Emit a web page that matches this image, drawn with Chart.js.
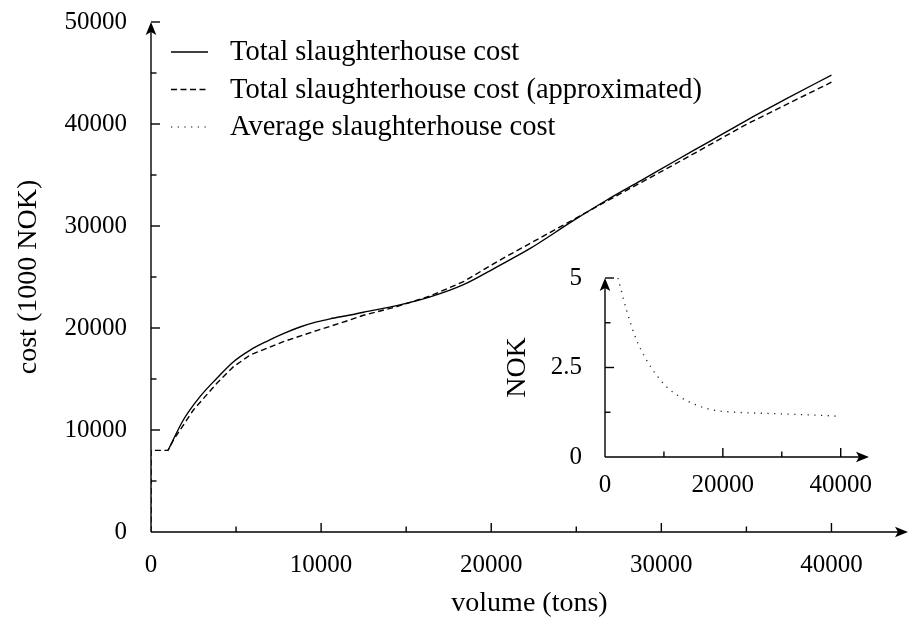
<!DOCTYPE html>
<html>
<head>
<meta charset="utf-8">
<script src="https://cdn.jsdelivr.net/npm/chart.js@4.4.0/dist/chart.umd.min.js"></script>
<style>
  html, body { margin: 0; padding: 0; background: #fff; }
  #wrap { position: relative; width: 913px; height: 628px; }
  #main { position: absolute; left: 0; top: 0; }
  #inset { position: absolute; left: 490px; top: 260px; }
</style>
</head>
<body>
<div id="wrap">
  <canvas id="main" width="913" height="628"></canvas>
  <canvas id="inset" width="423" height="250"></canvas>
</div>
<script>
// Total slaughterhouse cost (1000 NOK) against volume (tons)
const totalX = [1000, 1900, 2880, 3870, 4850, 5830, 6810, 7780, 8760, 9740, 10530, 11710, 12490,
                14450, 16410, 18370, 20340, 22290, 24800, 26800, 28800, 30730, 32900, 35040, 37500, 40000];
const totalY = [8000, 10980, 13270, 15070, 16700, 17840, 18700, 19450, 20100, 20600, 20900, 21270, 21550,
                22200, 23050, 24250, 26000, 27800, 30500, 32550, 34450, 36300, 38350, 40390, 42600, 44800];

// Approximated total cost
const approxX = [0, 0, 1000, 1320, 2490, 3870, 4850, 5830, 7780, 9740, 10600, 11710, 12490, 14450,
                 16410, 18370, 20340, 22290, 24800, 26800, 30730, 35040, 40000];
const approxY = [0, 8000, 8000, 9020, 11960, 14580, 16210, 17350, 18660, 19750, 20200, 20800, 21250, 22090,
                 23140, 24540, 26500, 28300, 30600, 32450, 36000, 40000, 44100];

// Average cost (NOK) for the inset
const avgX = [2200, 3640, 5340, 7040, 8740, 10440, 12700, 15540, 18370, 21200, 26870, 32550, 39630];
const avgY = [5.0, 4.11, 3.27, 2.71, 2.29, 1.96, 1.68, 1.45, 1.31, 1.26, 1.22, 1.19, 1.14];

const legendLabels = ['Total slaughterhouse cost', 'Total slaughterhouse cost (approximated)', 'Average slaughterhouse cost'];
const legendDashes = [[], [6, 3.5], [1.2, 5.5]];

// labelled ticks; a minor tick is drawn halfway between two of them
const mainXTicks = [0, 10000, 20000, 30000, 40000];
const mainYTicks = [0, 10000, 20000, 30000, 40000, 50000];
const insetXTicks = [0, 20000, 40000];
const insetYTicks = [0, 2.5, 5];

const pts = (xs, ys) => xs.map((v, i) => ({ x: v, y: ys[i] }));
const fixTicks = list => s => { s.ticks = list.map(v => ({ value: v })); };
const noPad = s => { s.paddingTop = 0; s.paddingBottom = 0; s.paddingLeft = 0; s.paddingRight = 0; };

Chart.defaults.font.family = "'Liberation Serif', serif";
Chart.defaults.font.size = 25;
Chart.defaults.color = '#000';

function drawLine(ctx, x1, y1, x2, y2) {
  ctx.beginPath(); ctx.moveTo(x1, y1); ctx.lineTo(x2, y2); ctx.stroke();
}

function arrowHead(ctx, tx, ty, dir) {
  const L = 13, W = 5.3, N = 3;
  ctx.beginPath();
  if (dir === 'right') {
    ctx.moveTo(tx, ty);
    ctx.lineTo(tx - L, ty - W);
    ctx.lineTo(tx - L + N, ty);
    ctx.lineTo(tx - L, ty + W);
  } else {
    ctx.moveTo(tx, ty);
    ctx.lineTo(tx - W, ty + L);
    ctx.lineTo(tx, ty + L - N);
    ctx.lineTo(tx + W, ty + L);
  }
  ctx.closePath();
  ctx.fill();
}

// axis lines with arrows, inward major ticks and minor ticks in between
const axisMarks = {
  id: 'axisMarks',
  afterDatasetsDraw(chart, args, opts) {
    const { ctx, chartArea: a, scales: { x, y } } = chart;
    const x0 = x.getPixelForValue(0), y0 = y.getPixelForValue(0);
    ctx.save();
    ctx.strokeStyle = '#000';
    ctx.fillStyle = '#000';
    ctx.lineWidth = 1.4;
    ctx.setLineDash([]);
    const xt = x.ticks.map(t => t.value), yt = y.ticks.map(t => t.value);
    xt.forEach((v, i) => {
      if (v > 0) {
        const px = x.getPixelForValue(v);
        drawLine(ctx, px, y0, px, y0 - opts.major);
      }
      const step = i + 1 < xt.length ? xt[i + 1] - v : v - xt[i - 1];
      if (v + step / 2 < x.max) {
        const pm = x.getPixelForValue(v + step / 2);
        drawLine(ctx, pm, y0, pm, y0 - opts.minor);
      }
    });
    yt.forEach((v, i) => {
      if (v > 0) {
        const py = y.getPixelForValue(v);
        drawLine(ctx, x0, py, x0 + opts.major, py);
      }
      const step = i + 1 < yt.length ? yt[i + 1] - v : v - yt[i - 1];
      if (v + step / 2 < y.max) {
        const pm = y.getPixelForValue(v + step / 2);
        drawLine(ctx, x0, pm, x0 + opts.minor, pm);
      }
    });
    drawLine(ctx, x0, y0, a.right - 8, y0);
    drawLine(ctx, x0, y0, x0, a.top + 8);
    arrowHead(ctx, a.right, y0, 'right');
    arrowHead(ctx, x0, a.top, 'up');
    ctx.restore();
  }
};

const lineLegend = {
  id: 'lineLegend',
  afterDraw(chart, args, opts) {
    const { ctx } = chart;
    ctx.save();
    ctx.font = opts.font;
    ctx.fillStyle = '#000';
    ctx.strokeStyle = '#000';
    ctx.textBaseline = 'middle';
    legendLabels.forEach((label, i) => {
      const yy = opts.top + i * opts.rowGap;
      ctx.lineWidth = i === 2 ? 1.2 : 1.4;
      ctx.setLineDash(legendDashes[i]);
      drawLine(ctx, opts.lineStart, yy, opts.lineEnd, yy);
      ctx.setLineDash([]);
      ctx.fillText(label, opts.textStart, yy + 1);
    });
    ctx.restore();
  }
};

new Chart(document.getElementById('main'), {
  type: 'scatter',
  data: {
    datasets: [
      {
        label: legendLabels[0],
        data: pts(totalX, totalY),
        showLine: true,
        borderColor: '#000',
        borderWidth: 1.4,
        pointRadius: 0,
        cubicInterpolationMode: 'monotone'
      },
      {
        label: legendLabels[1],
        data: pts(approxX, approxY),
        showLine: true,
        borderColor: '#000',
        borderWidth: 1.4,
        borderDash: legendDashes[1],
        pointRadius: 0,
        tension: 0
      }
    ]
  },
  options: {
    responsive: false,
    animation: false,
    layout: { autoPadding: false, padding: { top: 22, right: 5, left: 0, bottom: 0 } },
    plugins: {
      legend: { display: false },
      tooltip: { enabled: false },
      axisMarks: { major: 9, minor: 5.5 },
      lineLegend: { font: "28.5px 'Liberation Serif'", top: 52, rowGap: 37.5, lineStart: 171, lineEnd: 208, textStart: 230 }
    },
    scales: {
      x: {
        type: 'linear',
        min: 0,
        max: 44500,
        grid: { display: false, drawTicks: false },
        border: { display: false },
        afterBuildTicks: fixTicks(mainXTicks),
        ticks: { autoSkip: false, maxRotation: 0, padding: 18, callback: v => String(v) },
        title: { display: true, text: 'volume (tons)', font: { size: 28 }, padding: { top: 0, bottom: 8 } },
        afterFit: s => { s.height = 96; noPad(s); }
      },
      y: {
        type: 'linear',
        min: 0,
        max: 50000,
        grid: { display: false, drawTicks: false },
        border: { display: false },
        afterBuildTicks: fixTicks(mainYTicks),
        ticks: { autoSkip: false, padding: 24, callback: v => String(v) },
        title: { display: true, text: 'cost (1000 NOK)', font: { size: 28 }, padding: { top: 12, bottom: 0 } },
        afterFit: s => { s.width = 151; noPad(s); }
      }
    }
  },
  plugins: [axisMarks, lineLegend]
});

new Chart(document.getElementById('inset'), {
  type: 'scatter',
  data: {
    datasets: [
      {
        label: legendLabels[2],
        data: pts(avgX, avgY),
        showLine: true,
        borderColor: '#222',
        borderWidth: 1.3,
        borderDash: legendDashes[2],
        pointRadius: 0,
        cubicInterpolationMode: 'monotone'
      }
    ]
  },
  options: {
    responsive: false,
    animation: false,
    layout: { autoPadding: false, padding: { top: 18, right: 44, left: 0, bottom: 0 } },
    plugins: {
      legend: { display: false },
      tooltip: { enabled: false },
      axisMarks: { major: 9, minor: 5.5 }
    },
    scales: {
      x: {
        type: 'linear',
        min: 0,
        max: 44800,
        grid: { display: false, drawTicks: false },
        border: { display: false },
        afterBuildTicks: fixTicks(insetXTicks),
        ticks: { autoSkip: false, maxRotation: 0, padding: 13, callback: v => String(v) },
        afterFit: s => { s.height = 53; noPad(s); }
      },
      y: {
        type: 'linear',
        min: 0,
        max: 5,
        grid: { display: false, drawTicks: false },
        border: { display: false },
        afterBuildTicks: fixTicks(insetYTicks),
        ticks: { autoSkip: false, padding: 23, callback: v => String(v) },
        title: { display: true, text: 'NOK', font: { size: 28 }, padding: { top: 11, bottom: 0 } },
        afterFit: s => { s.width = 115; noPad(s); }
      }
    }
  },
  plugins: [axisMarks]
});
</script>
</body>
</html>
